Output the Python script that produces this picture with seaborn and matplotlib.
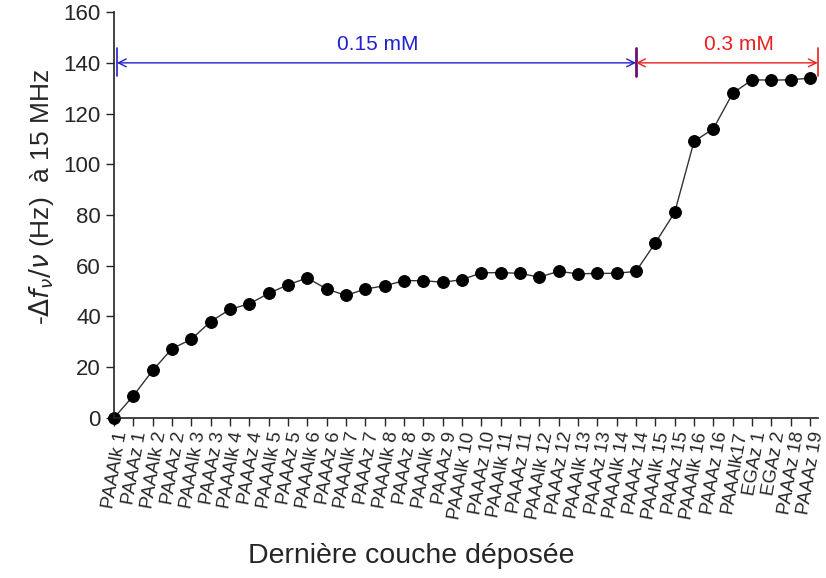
import numpy as np
import pandas as pd
import seaborn as sns
import matplotlib.pyplot as plt

# deposited layers, in order
layers = []
for i in range(1, 17):
    layers += ['PAAAlk %d' % i, 'PAAAz %d' % i]
layers += ['PAAAlk17', 'EGAz 1', 'EGAz 2', 'PAAAz 18', 'PAAAz 19']

# -delta f / nu (Hz) at 15 MHz
shift = [0, 8.7, 18.7, 27.3, 31, 38, 42.8, 45, 49.1, 52.5,
         55.2, 50.8, 48.3, 50.8, 52.1, 54.1, 54.1, 53.5, 54.5, 57.2,
         57.3, 57.0, 55.5, 57.8, 56.8, 57.0, 57.0, 57.8, 69, 81,
         109, 114, 128, 133.3, 133.2, 133.3, 134]

# concentration ranges (layer index)
blue_range = (0.15, 27)
red_range = (27, 36.4)

data = pd.DataFrame({'idx': np.arange(len(layers)), 'shift': shift})

sns.set_style('ticks')
plt.rcParams['font.family'] = ['Liberation Sans', 'DejaVu Sans']
plt.rcParams['mathtext.fontset'] = 'dejavusans'

fig = plt.figure(figsize=(8.26, 5.78), dpi=100)
ax = fig.add_axes([0.138, 0.277, 0.852, 0.702])

sns.lineplot(x='idx', y='shift', data=data, ax=ax, color='#333333', lw=1.0,
             marker='o', markersize=8.5, markerfacecolor='black',
             markeredgecolor='black', clip_on=False)

# concentration arrows
ax.annotate('', xy=(blue_range[0], 140), xytext=(blue_range[1], 140),
            arrowprops=dict(arrowstyle='<->', color='#2020d0', lw=1.0,
                            shrinkA=0, shrinkB=0, mutation_scale=14))
ax.annotate('', xy=(red_range[0], 140), xytext=(red_range[1], 140),
            arrowprops=dict(arrowstyle='<->', color='#e82020', lw=1.0,
                            shrinkA=0, shrinkB=0, mutation_scale=14))
ax.plot([blue_range[0]] * 2, [135, 146], color='#2020d0', lw=1.2, clip_on=False)
ax.plot([red_range[0]] * 2, [135, 146], color='#6a1070', lw=2.0, clip_on=False)
ax.plot([red_range[1]] * 2, [135, 146], color='#e82020', lw=1.2, clip_on=False)
ax.text(13.65, 147.3, '0.15 mM', color='#2020d0', fontsize=15, ha='center', va='center')
ax.text(32.3, 147.3, '0.3 mM', color='#e82020', fontsize=15, ha='center', va='center')

ax.set_xlim(0, 36.4)
ax.set_ylim(0, 160)
ax.set_yticks(np.arange(0, 161, 20))
ax.set_xticks(data['idx'])
ax.set_xticklabels(layers, rotation=80, ha='right', rotation_mode='anchor', fontsize=13.5)
ax.tick_params(axis='y', labelsize=16, length=6, width=1)
ax.tick_params(axis='x', length=6, width=1, pad=3)
for s in ['left', 'bottom']:
    ax.spines[s].set_linewidth(1.2)
    ax.spines[s].set_color('#222222')
sns.despine(ax=ax)

ax.set_xlabel('Dernière couche déposée', fontsize=20.5)
ax.xaxis.set_label_coords(0.423, -0.308)
ax.set_ylabel(r'-$\Delta f_{\nu}/\nu$ (Hz)  à 15 MHz', fontsize=19)
ax.yaxis.set_label_coords(-0.082, 0.544)

fig.savefig('out.png', dpi=100)
plt.close()
